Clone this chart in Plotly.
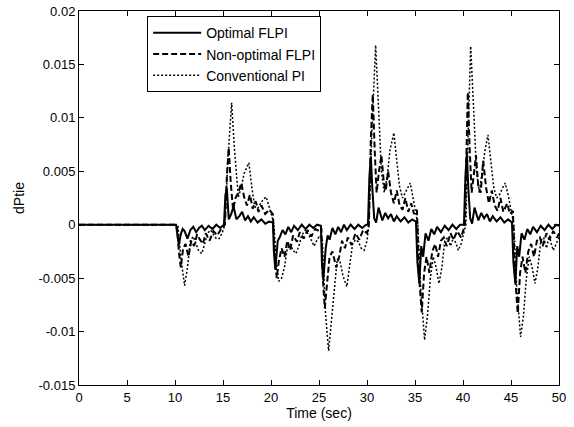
import plotly.graph_objects as go

# ---- data ----
t_opt = [0, 10.1, 10.4, 10.6, 10.8, 11.0, 11.3, 11.6, 11.9, 12.2, 12.5, 12.8, 13.1, 13.5, 13.9, 14.3, 14.7, 15.1,
         15.25, 15.4, 15.6, 15.85, 16.1, 16.4, 16.7, 17.0, 17.3, 17.6, 17.9, 18.2, 18.6, 19.0, 19.4, 19.8, 20.2,
         20.3, 20.45, 20.7, 20.9, 21.2, 21.5, 21.8, 22.1, 22.4, 22.8, 23.2, 23.6, 24.0, 24.4, 24.8, 25.2,
         25.3, 25.45, 25.7, 25.9, 26.1, 26.4, 26.7, 27.0, 27.3, 27.6, 27.9, 28.3, 28.7, 29.1, 29.5, 29.9, 30.1,
         30.25, 30.4, 30.55, 30.75, 30.95, 31.2, 31.4, 31.6, 31.9, 32.2, 32.5, 32.8, 33.1, 33.5, 33.9, 34.3, 34.7, 35.1,
         35.25, 35.45, 35.65, 35.85, 36.1, 36.4, 36.7, 37.0, 37.3, 37.7, 38.1, 38.5, 38.9, 39.3, 39.7, 40.1,
         40.25, 40.4, 40.55, 40.75, 40.95, 41.2, 41.4, 41.6, 41.9, 42.2, 42.5, 42.8, 43.1, 43.5, 43.9, 44.3, 44.7, 45.1,
         45.25, 45.45, 45.65, 45.85, 46.1, 46.4, 46.7, 47.0, 47.3, 47.7, 48.1, 48.5, 48.9, 49.3, 49.7, 50.0]
v_opt = [0, 0, -0.0019, -0.0009, -0.0004, -0.0006, -0.0013, -0.0005, -0.0002, -0.0007, -0.0003, -0.0001, -0.0005, -0.0001, -0.0004, 0.0, -0.0003, 0.0,
         0.0028, 0.0034, 0.0005, 0.0010, 0.0017, 0.0005, 0.0008, 0.0012, 0.0004, 0.0008, 0.0003, 0.0007, 0.0002, 0.0005, 0.0001, 0.0003, 0.0002,
         -0.0025, -0.0042, -0.0015, -0.0012, -0.0005, -0.0009, -0.0002, -0.0007, -0.0001, -0.0005, 0.0, -0.0004, 0.0, -0.0003, 0.0, -0.0001,
         -0.0035, -0.0052, -0.0022, -0.0010, -0.0014, -0.0003, -0.0009, -0.0002, -0.0007, 0.0, -0.0005, 0.0, -0.0004, 0.0, -0.0003, 0.0, 0.0,
         0.0045, 0.0064, 0.0035, 0.0006, 0.0002, 0.0016, 0.0010, 0.0004, 0.0011, 0.0006, 0.0010, 0.0003, 0.0008, 0.0003, 0.0007, 0.0002, 0.0005, 0.0003,
         -0.0035, -0.0055, -0.0020, -0.0030, -0.0008, -0.0015, -0.0004, -0.0009, -0.0002, -0.0007, -0.0001, -0.0005, 0.0, -0.0004, 0.0, 0.0,
         0.0045, 0.0067, 0.0035, 0.0006, 0.0001, 0.0016, 0.0010, 0.0004, 0.0011, 0.0006, 0.0010, 0.0003, 0.0008, 0.0003, 0.0007, 0.0002, 0.0005, 0.0002,
         -0.0035, -0.0055, -0.0020, -0.0030, -0.0008, -0.0014, -0.0004, -0.0009, -0.0002, -0.0007, -0.0001, -0.0005, 0.0, -0.0004, 0.0, -0.0001]

t_non = [0, 10.2, 10.4, 10.6, 10.85, 11.1, 11.4, 11.7, 12.0, 12.3, 12.6, 12.9, 13.2, 13.6, 14.0, 14.4, 14.8, 15.2,
         15.4, 15.6, 15.8, 16.05, 16.3, 16.6, 16.9, 17.2, 17.5, 17.8, 18.1, 18.4, 18.7, 19.0, 19.4, 19.8, 20.2,
         20.4, 20.6, 20.8, 21.1, 21.4, 21.7, 22.0, 22.3, 22.7, 23.0, 23.4, 23.8, 24.2, 24.6, 25.0, 25.25,
         25.4, 25.6, 25.85, 26.1, 26.4, 26.8, 27.1, 27.4, 27.7, 28.0, 28.4, 28.8, 29.2, 29.6, 30.0, 30.2,
         30.4, 30.6, 30.8, 31.0, 31.25, 31.5, 31.75, 31.95, 32.2, 32.5, 32.8, 33.1, 33.4, 33.7, 34.0, 34.3, 34.6, 34.9, 35.2,
         35.4, 35.7, 35.95, 36.2, 36.5, 36.8, 37.1, 37.4, 37.7, 38.0, 38.3, 38.7, 39.0, 39.4, 39.8, 40.2,
         40.35, 40.5, 40.7, 40.9, 41.1, 41.35, 41.6, 41.85, 42.1, 42.4, 42.7, 43.0, 43.3, 43.6, 43.9, 44.2, 44.6, 44.9, 45.2,
         45.4, 45.7, 45.95, 46.2, 46.5, 46.8, 47.1, 47.4, 47.7, 48.0, 48.3, 48.7, 49.0, 49.4, 49.8, 50.0]
v_non = [0, 0, -0.0025, -0.0040, -0.0022, -0.0018, -0.0030, -0.0015, -0.0020, -0.0009, -0.0014, -0.0018, -0.0008, -0.0015, -0.0006, -0.0010, -0.0004, 0.0,
         0.0045, 0.0072, 0.0040, 0.0014, 0.0025, 0.0030, 0.0039, 0.0026, 0.0018, 0.0028, 0.0015, 0.0022, 0.0012, 0.0018, 0.0010, 0.0014, 0.0010,
         -0.0030, -0.0050, -0.0035, -0.0022, -0.0030, -0.0015, -0.0024, -0.0010, -0.0016, -0.0007, -0.0013, -0.0005, -0.0011, -0.0004, -0.0006, -0.0003,
         -0.0050, -0.0078, -0.0055, -0.0030, -0.0025, -0.0040, -0.0030, -0.0015, -0.0022, -0.0012, -0.0019, -0.0008, -0.0014, -0.0005, -0.0008, 0.0,
         0.0080, 0.0122, 0.0070, 0.0030, 0.0050, 0.0065, 0.0040, 0.0032, 0.0050, 0.0030, 0.0020, 0.0032, 0.0018, 0.0014, 0.0025, 0.0012, 0.0020, 0.0010, 0.0014,
         -0.0045, -0.0082, -0.0045, -0.0030, -0.0045, -0.0025, -0.0018, -0.0030, -0.0015, -0.0012, -0.0020, -0.0008, -0.0014, -0.0006, -0.0012, 0.0,
         0.0080, 0.0124, 0.0070, 0.0030, 0.0045, 0.0065, 0.0035, 0.0030, 0.0060, 0.0035, 0.0020, 0.0032, 0.0018, 0.0013, 0.0025, 0.0012, 0.0020, 0.0010, 0.0013,
         -0.0045, -0.0083, -0.0045, -0.0030, -0.0045, -0.0025, -0.0018, -0.0030, -0.0015, -0.0012, -0.0020, -0.0008, -0.0014, -0.0006, -0.0012, -0.0008]

t_con = [0, 10.3, 10.6, 11.0, 11.3, 11.6, 11.9, 12.2, 12.5, 12.8, 13.1, 13.4, 13.7, 14.0, 14.3, 14.6, 14.9, 15.2,
         15.5, 15.9, 16.2, 16.6, 16.9, 17.2, 17.7, 18.0, 18.3, 18.6, 18.9, 19.2, 19.5, 19.8, 20.1, 20.3,
         20.55, 20.8, 21.1, 21.4, 21.7, 22.0, 22.3, 22.6, 22.9, 23.2, 23.6, 23.9, 24.2, 24.5, 24.8, 25.1, 25.35,
         25.65, 26.0, 26.3, 26.6, 26.9, 27.2, 27.5, 27.9, 28.2, 28.5, 28.8, 29.1, 29.4, 29.7, 30.0, 30.2,
         30.5, 30.9, 31.2, 31.5, 31.8, 32.1, 32.4, 32.8, 33.1, 33.4, 33.7, 34.0, 34.3, 34.5, 34.8, 35.1, 35.3,
         35.6, 36.0, 36.3, 36.6, 36.9, 37.2, 37.5, 37.8, 38.1, 38.4, 38.7, 39.0, 39.3, 39.5, 39.8, 40.1, 40.3,
         40.55, 40.8, 41.1, 41.4, 41.7, 42.0, 42.3, 42.6, 42.9, 43.2, 43.5, 43.8, 44.1, 44.4, 44.7, 45.0, 45.3,
         45.6, 46.0, 46.3, 46.6, 46.9, 47.2, 47.5, 47.8, 48.1, 48.4, 48.7, 49.0, 49.2, 49.4, 49.7, 50.0]
v_con = [0, 0, -0.0030, -0.0057, -0.0040, -0.0015, -0.0011, -0.0018, -0.0025, -0.0027, -0.0018, -0.0008, -0.0005, -0.0009, -0.0013, -0.0013, -0.0008, 0.0,
         0.0060, 0.0114, 0.0070, 0.0026, 0.0035, 0.0048, 0.0058, 0.0035, 0.0017, 0.0015, 0.0020, 0.0024, 0.0026, 0.0018, 0.0008, 0.0,
         -0.0035, -0.0053, -0.0050, -0.0040, -0.0022, -0.0018, -0.0024, -0.0027, -0.0020, -0.0010, -0.0005, -0.0009, -0.0015, -0.0020, -0.0014, -0.0010, -0.0015,
         -0.0080, -0.0118, -0.0090, -0.0055, -0.0032, -0.0035, -0.0048, -0.0058, -0.0035, -0.0018, -0.0014, -0.0016, -0.0022, -0.0024, -0.0015, 0.0,
         0.0085, 0.0168, 0.0110, 0.0050, 0.0030, 0.0045, 0.0070, 0.0086, 0.0060, 0.0035, 0.0025, 0.0030, 0.0036, 0.0039, 0.0025, 0.0012, 0.0,
         -0.0060, -0.0108, -0.0085, -0.0050, -0.0030, -0.0040, -0.0055, -0.0040, -0.0015, -0.0012, -0.0020, -0.0012, -0.0018, -0.0024, -0.0018, -0.0008, 0.0,
         0.0090, 0.0167, 0.0110, 0.0050, 0.0030, 0.0050, 0.0070, 0.0084, 0.0060, 0.0035, 0.0025, 0.0028, 0.0034, 0.0039, 0.0028, 0.0012, 0.0,
         -0.0060, -0.0105, -0.0085, -0.0050, -0.0030, -0.0040, -0.0055, -0.0040, -0.0015, -0.0012, -0.0022, -0.0010, -0.0018, -0.0024, -0.0018, -0.0012]

series_names = ["Optimal FLPI", "Non-optimal FLPI", "Conventional PI"]

x_ticks = [0, 5, 10, 15, 20, 25, 30, 35, 40, 45, 50]
x_tick_labels = ["0", "5", "10", "15", "20", "25", "30", "35", "40", "45", "50"]
y_ticks = [-0.015, -0.01, -0.005, 0, 0.005, 0.01, 0.015, 0.02]
y_tick_labels = ["-0.015", "-0.01", "-0.005", "0", "0.005", "0.01", "0.015", "0.02"]

fig = go.Figure()
fig.add_trace(go.Scatter(x=t_opt, y=v_opt, mode="lines", name=series_names[0],
                         line=dict(color="black", width=2, dash="solid")))
fig.add_trace(go.Scatter(x=t_non, y=v_non, mode="lines", name=series_names[1],
                         line=dict(color="black", width=2, dash="6px,3px")))
fig.add_trace(go.Scatter(x=t_con, y=v_con, mode="lines", name=series_names[2],
                         line=dict(color="black", width=1.5, dash="2px,2px")))

axis_common = dict(showline=True, linecolor="black", linewidth=1, mirror="ticks",
                   ticks="inside", ticklen=5, tickcolor="black", showgrid=False,
                   zeroline=False, automargin=False,
                   tickfont=dict(size=13, color="black"))

fig.update_layout(
    width=574, height=427,
    margin=dict(l=79, r=15, t=11, b=42),
    paper_bgcolor="white", plot_bgcolor="white",
    font=dict(family="Liberation Sans, Arial, sans-serif", size=13, color="black"),
    xaxis=dict(range=[0, 50], tickvals=x_ticks, ticktext=x_tick_labels,
               title=dict(text="Time (sec)", standoff=4, font=dict(size=14)), **axis_common),
    yaxis=dict(range=[-0.015, 0.02], tickvals=y_ticks, ticktext=y_tick_labels,
               title=dict(text="dPtie", standoff=10, font=dict(size=14)), **axis_common),
    legend=dict(x=0.142, y=0.986, xanchor="left", yanchor="top",
                bgcolor="white", bordercolor="black", borderwidth=1,
                font=dict(size=14), tracegroupgap=0, itemwidth=48),
    showlegend=True,
)

fig.write_html("out.html", config={"displayModeBar": False},
               post_script="document.body.style.margin='0';document.body.style.overflow='hidden';")
